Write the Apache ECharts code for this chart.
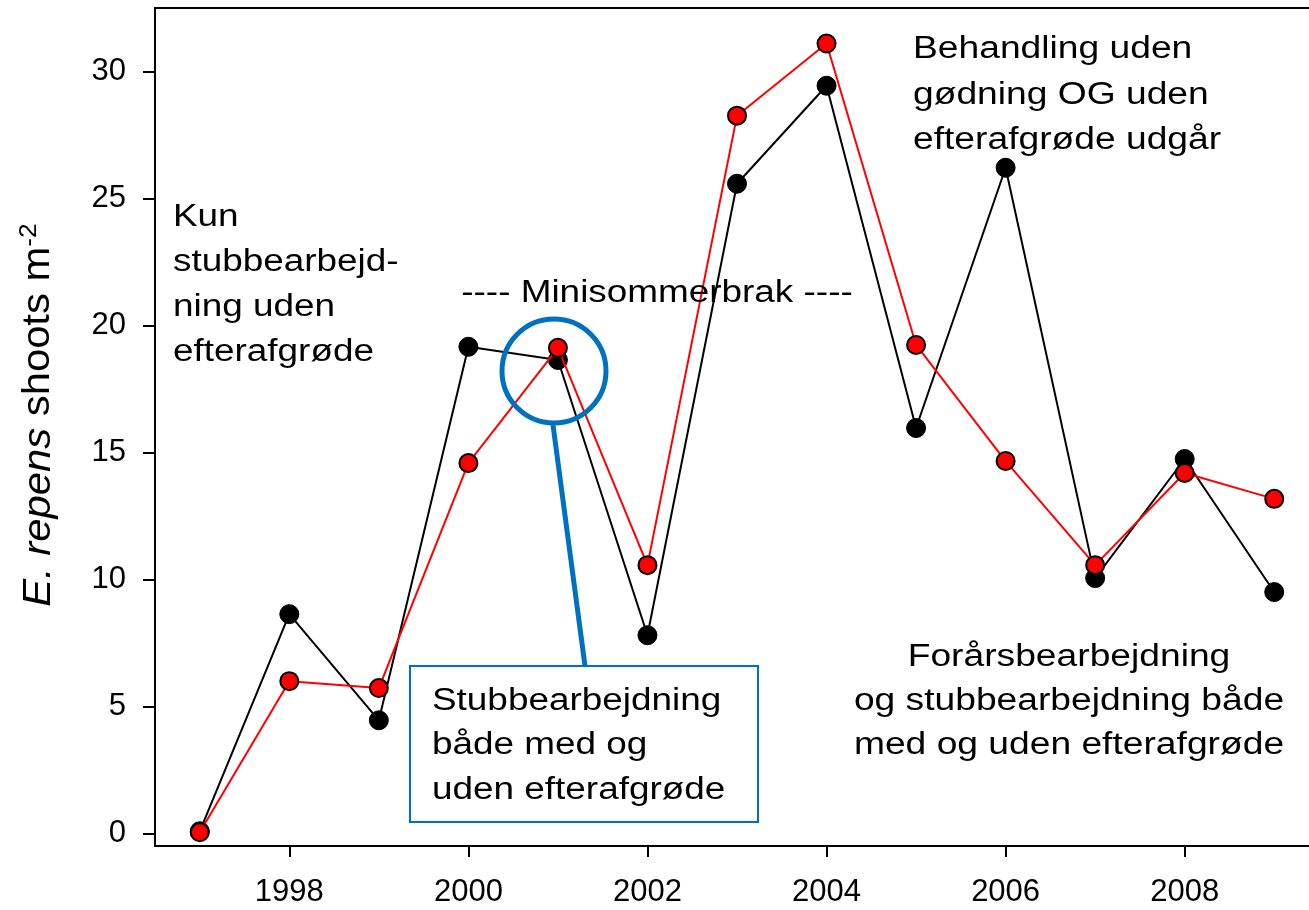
<!DOCTYPE html>
<html>
<head>
<meta charset="utf-8">
<script src="https://cdn.jsdelivr.net/npm/echarts@6/dist/echarts.min.js"></script>
<style>
html,body{margin:0;padding:0;background:#fff;}
#main{width:1309px;height:910px;}
</style>
</head>
<body>
<div id="main"></div>
<script>
const years = [1997,1998,1999,2000,2001,2002,2003,2004,2005,2006,2007,2008,2009];
const blackValues = [0.08,8.63,4.45,19.16,18.64,7.8,25.58,29.44,15.96,26.21,10.05,14.74,9.5];
const redValues = [0.04,5.99,5.72,14.58,19.12,10.56,28.26,31.1,19.23,14.66,10.56,14.19,13.17];
const xTicks = [1998,2000,2002,2004,2006,2008];
const yTicks = [0,5,10,15,20,25,30];

const FONT = 'Liberation Sans, Arial, sans-serif';
const chart = echarts.init(document.getElementById('main'), null, {renderer:'canvas'});

function pairs(vals){ return years.map((y,i)=>[y, vals[i]]); }

function annot(text, x, y, align, lineHeight, sx){
  return {
    type:'text', x:x, y:y, scaleX: sx, z:50,
    style:{ text:text, x:0, y:0, font:'31px '+FONT, fill:'#000',
      align:align, verticalAlign:'top', lineHeight:lineHeight }
  };
}

const option = {
  animation:false,
  backgroundColor:'#fff',
  grid:{ left:155, top:8, width:1164, height:838, outerBoundsMode:'none', containLabel:false,
    show:true, borderColor:'#000', borderWidth:2, backgroundColor:'transparent' },
  xAxis:{
    type:'value', min:1996.5, max:2009.5,
    splitLine:{show:false},
    axisLine:{show:true, onZero:false, lineStyle:{color:'#000', width:2}},
    axisTick:{show:true, length:11, lineStyle:{color:'#000', width:2}, customValues:xTicks},
    axisLabel:{ fontSize:31, fontFamily:FONT, color:'#000', margin:31, customValues:xTicks, formatter: v => String(v) }
  },
  yAxis:{
    type:'value', min:-0.5, max:32.5,
    splitLine:{show:false},
    axisLine:{show:true, onZero:false, lineStyle:{color:'#000', width:2}},
    axisTick:{show:true, length:12, lineStyle:{color:'#000', width:2}, customValues:yTicks},
    axisLabel:{ fontSize:31, fontFamily:FONT, color:'#000', margin:29, customValues:yTicks, formatter: v => String(v) }
  },
  series:[
    {
      type:'line', data:pairs(blackValues), symbol:'circle', symbolSize:19,
      lineStyle:{color:'#000', width:2}, itemStyle:{color:'#000', borderColor:'#000', borderWidth:1},
      z:2
    },
    {
      type:'line', data:pairs(redValues), symbol:'circle', symbolSize:18,
      lineStyle:{color:'#ff0000', width:2}, itemStyle:{color:'#ff0000', borderColor:'#000', borderWidth:2},
      z:3
    }
  ],
  graphic:[
    { type:'line', z:40, shape:{x1:553, y1:425, x2:585, y2:666}, style:{stroke:'#0070C0', lineWidth:5} },
    { type:'circle', z:40, shape:{cx:554, cy:371, r:52}, style:{stroke:'#0070C0', lineWidth:5, fill:null} },
    { type:'rect', z:41, shape:{x:410, y:666, width:348, height:156}, style:{stroke:'#0070C0', lineWidth:2, fill:'#fff'} },
    annot('Kun\nstubbearbejd-\nning uden\nefterafgrøde', 173, 194.5, 'left', 45, 1.19),
    annot('---- Minisommerbrak ----', 657, 271, 'center', 45, 1.19),
    annot('Behandling uden\ngødning OG uden\nefterafgrøde udgår', 913, 27, 'left', 45.5, 1.2),
    annot('Forårsbearbejdning\nog stubbearbejdning både\nmed og uden efterafgrøde', 1069, 635, 'center', 44, 1.2),
    annot('Stubbearbejdning\nbåde med og\nuden efterafgrøde', 432, 679, 'left', 44.5, 1.19),
    {
      type:'text', x:39, y:415, rotation:Math.PI/2, scaleX:1.1, z:50,
      style:{
        text:'{i|E. repens} shoots m{sup|-2}', x:0, y:0, align:'center', verticalAlign:'middle',
        font:'38px '+FONT, fill:'#000',
        rich:{
          i:{ fontStyle:'italic', fontSize:38, fontFamily:FONT, fill:'#000' },
          sup:{ fontSize:24, fontFamily:FONT, fill:'#000', verticalAlign:'top', padding:[0,0,20,0] }
        }
      }
    }
  ]
};
chart.setOption(option);
</script>
</body>
</html>
